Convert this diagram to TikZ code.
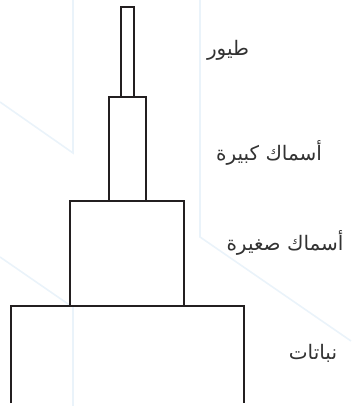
\documentclass[tikz,border=0pt]{standalone}
\usepackage{fontspec}
\newfontfamily\arabicfont[Script=Arabic]{DejaVu Sans}
\TeXXeTstate=1
\definecolor{bgline}{RGB}{234,243,250}
\definecolor{boxline}{RGB}{35,31,32}
\definecolor{labeltext}{RGB}{50,50,50}
\tikzset{
  bglinestyle/.style={draw=bgline, line width=1.6pt},
  boxstyle/.style={draw=boxline, line width=2.2pt, line join=miter},
  levellabel/.style={text=labeltext, font=\arabicfont\fontsize{20}{24}\selectfont, inner sep=0pt}
}
\begin{document}
\begin{tikzpicture}[x=1pt,y=-1pt]
\useasboundingbox (0,0) rectangle (351,406);
% faint background lines
\draw[bglinestyle] (73,0) -- (73,153) -- (0,102);
\draw[bglinestyle] (0,257) -- (71,306) -- (73,306) -- (73,406);
\draw[bglinestyle] (200,0) -- (200,237) -- (351,341);
% pyramid boxes
\draw[boxstyle] (11,403) -- (11,306) -- (244,306) -- (244,403);
\draw[boxstyle] (70,306) rectangle (184,201);
\draw[boxstyle] (109,201) rectangle (146,97);
\draw[boxstyle] (121,97) rectangle (134,7);
% labels
\node[levellabel] (birds) at (228,50) {\beginR طيور\endR};
\node[levellabel] (bigfish) at (269,153) {\beginR أسماك كبيرة\endR};
\node[levellabel] (smallfish) at (285,243) {\beginR أسماك صغيرة\endR};
\node[levellabel] (plants) at (313,353) {\beginR نباتات\endR};
\end{tikzpicture}
\end{document}
